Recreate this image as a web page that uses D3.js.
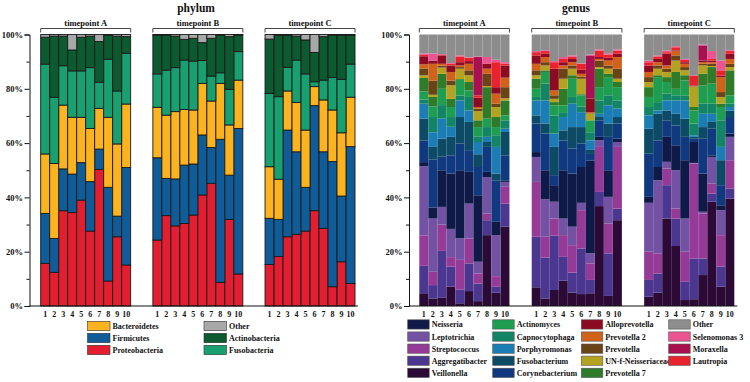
<!DOCTYPE html>
<html><head><meta charset="utf-8">
<script src="https://cdn.jsdelivr.net/npm/d3@7"></script>
<style>
body{margin:0;background:#fff;}
text{font-family:"Liberation Serif","Times New Roman",serif;font-weight:bold;fill:#111;}
</style></head>
<body><svg id="c" width="750" height="382"></svg>
<script>
const timepoints = ["timepoint A","timepoint B","timepoint C"];
const samples = ["1","2","3","4","5","6","7","8","9","10"];
const yTicks = [0,20,40,60,80,100];

// phylum (stack order bottom -> top), 30 values: A1..A10, B1..B10, C1..C10
const phylumKeys = ["Proteobacteria","Firmicutes","Bacteroidetes","Fusobacteria","Actinobacteria","Other"];
const phylumColors = ["#e31e30","#0f5c99","#fbb320","#18a070","#0b5a30","#a8a8a8"];
const proteobacteria = [15.7,12.4,35.1,34.4,39,27.6,50.3,9.2,25.5,15.1, 24.3,33.3,29.5,30.4,33.5,40.9,45.2,8.7,31.9,11.8, 15.3,18.2,25.5,26.4,27.6,35.1,28.6,7.1,16.3,8.3];
const firmicutes = [18.4,12.5,15.4,14.2,13.8,18.2,7.5,34.5,7.6,35.9, 30.3,13.7,17.3,21.5,18.8,22.1,13.2,52.7,16.3,53.6, 17,13.7,39.3,30.4,16.1,38.7,28.2,46.1,24.2,50.4];
const bacteroidetes = [21.9,27.6,23.5,20.9,16.7,19.6,15,25.8,26.6,23.4, 18.6,23.3,24.8,20.5,19.9,19,17.1,20.6,18.5,17.8, 19,14.8,14.4,18.2,21.1,7,19.1,19,23.3,18.2];
const fusobacteria = [33.1,24.4,14.5,17.1,17.1,22.4,9.6,21.4,19.5,18.7, 12.3,16.6,16.2,18.2,18,8.4,9.2,3.9,13.1,10.5, 27,30.4,8.7,15.6,20.7,1.8,7.3,12,19.7,12.2];
const actinobacteria = [9.9,22.5,10.9,7.7,12.4,11.6,15,8.9,20.2,6.1, 14.3,12.9,11.6,7.6,8.4,6.6,13.9,13.9,19.4,6.1, 20,22.7,11.9,8.8,12.5,10.8,16,15.6,16.3,10.7];
const phylumOther = [1,0.6,0.6,5.7,1,0.6,2.6,0.2,0.6,0.8, 0.2,0.2,0.6,1.8,1.4,3,1.4,0.2,0.8,0.2, 1.7,0.2,0.2,0.6,2,6.6,0.8,0.2,0.2,0.2];
const phylumSeries = [proteobacteria,firmicutes,bacteroidetes,fusobacteria,actinobacteria,phylumOther];
const phylumLegend = [["Bacteroidetes","Firmicutes","Proteobacteria"],["Other","Actinobacteria","Fusobacteria"]];

// genus (stack order bottom -> top)
const genusKeys = ["Veillonella","Aggregatibacter","Streptococcus","Leptotrichia","Neisseria",
  "Corynebacterium","Fusobacterium","Porphyromonas","Capnocytophaga","Actinomyces",
  "Prevotella 7","UN-f-Neisseriaceae","Prevotella","Prevotella 2","Alloprevotella",
  "Lautropia","Moraxella","Selenomonas 3","Other"];
const genusColors = ["#2b0b36","#4b3690","#963a97","#7452a3","#0f1a48",
  "#10397f","#0d4a66","#1c7cb4","#138566","#1f9d50",
  "#2e7b2a","#b4a222","#6a4316","#d0621c","#8c0b22",
  "#e8222e","#a8104f","#ea5490","#8d8d8d"];
const veillonella = [4.7,2.8,3,7.1,1,5.5,1.8,26.1,4.9,29.2, 6.9,2.8,5.9,9.3,4.9,4.4,4.7,36.8,3.7,31.6, 3.4,4.9,32.2,22.1,2.2,2.5,11.4,38.4,7.1,39.6];
const aggregatibacter = [10.1,4.9,17.3,7.4,5.1,10.2,6.5,5.5,2.2,8.5, 18.6,15,20.1,8.8,7.4,16.8,4.9,5.2,15.7,4.3, 6.2,7.1,12.3,10.1,6.7,15,6.1,3,7.4,3.7];
const streptococcus = [11.2,4.9,9.7,3.5,10.9,9.2,3.7,2.5,3.9,6.2, 20.2,7.7,6.2,8,10.1,14.1,6.1,16.6,11,22.7, 10.4,7.4,6.1,3.7,11.1,35,16.6,3.7,11.6,10.4];
const leptotrichia = [25.5,19.6,6.5,10.4,7.9,12.8,4.3,13.4,15.1,1.8, 9.2,13.8,6.2,6.1,6.8,2.7,3.7,2.4,9.8,1.8, 18,26.9,2.5,14.1,12.2,0.2,0.6,9.8,9.2,8.6];
const neisseria = [1.5,4.1,13.5,20.4,25.1,11.7,24.5,1.9,4.9,0.6, 1.8,10.7,6.1,17.8,19.6,13.2,34.1,1.3,9.8,1.2, 2.2,4.9,9.2,9.2,21.5,7.7,14.1,0.6,1.8,1.2];
const corynebacterium = [8,17.7,5,6.7,9.8,8,10.4,9.2,15.3,9.2, 10.5,13.5,3.7,11,9.2,8.6,2.5,6.1,12.3,5.6, 15.9,9.8,6.1,7.3,8.6,1.2,12.8,9.8,7.4,6.1];
const fusobacterium = [8,4.6,6.6,6.8,9.8,10.4,4.7,1.8,2.5,8.6, 3,3.7,10.4,3.7,7.9,6.1,1.5,1.2,4.9,2.4, 9.2,9.8,3.6,4.3,6.7,0.7,4.3,2.5,9.2,2.4];
const porphyromonas = [5.5,5.4,7.4,3.7,6.1,4.2,4.5,1.9,9.8,1.2, 5.5,8.5,4.9,4.9,8.6,5.5,3.5,1.2,6.7,3.1, 4.9,1.2,3.7,4.9,6.7,0.6,4.9,3,4.9,1.3];
const capnocytophaga = [1.5,5.6,5,3.6,1.8,5,2.1,3.6,4.3,3.1, 1.3,6.2,6.7,1.8,2.5,2.1,3,4.9,3.7,3, 3.1,3.1,2.5,1.9,1.9,4.3,3.7,3.7,9.8,1.2];
const actinomyces = [3,3.9,6,3.7,5.8,2.4,3.4,3.1,3,1.8, 3,4.3,3.7,2.5,6.7,4.1,4.4,4.9,6.7,4.9, 3.7,9.2,4.3,2.4,5.5,4.8,6.7,7.4,4.9,3.1];
const prevotella7 = [5,3.5,5.5,3,0.3,3.1,2.5,11.6,3.7,5.5, 3.7,0.6,1.2,6.1,1.3,0.4,0,6.8,1.2,1.9, 3.6,0.7,1.8,6.2,1.9,1.3,4.3,6.1,1.2,9.2];
const unfNeisseriaceae = [1,0.8,2.3,5,3.8,2.5,3.4,0.4,3.7,0.8, 1.3,1.8,1.2,3.7,2.4,5.7,2.4,0.6,1.9,1.2, 1.9,2.4,1.9,4.2,1.8,7.3,3.1,0.4,2.5,1.2];
const prevotella = [2.5,5.2,0.7,1.7,0.6,1.8,0.9,4.5,1.2,4.1, 1.8,1.2,1.3,3.7,1.2,0.8,0.2,2.4,1.2,3.7, 1.8,1.2,1.2,1.9,1.2,0.2,0.6,0.8,1.8,1.2];
const prevotella2 = [1.5,6.2,0.7,3.2,0.6,2.4,0.6,1.9,3.7,3.5, 2.4,1.9,1.8,1.2,1.2,1,0.4,0.6,1.8,4.3, 1.9,1.2,1.2,1.8,1.2,0.4,0.6,0.6,5.5,1.8];
const alloprevotella = [3,1.2,3.1,2.4,1.2,1,3.4,1.8,2.4,4.5, 3.1,1.2,8,1.2,1.2,1.5,5,0.7,1,1.2, 2.4,1.2,4.3,0.2,0.6,0.2,0.6,0.6,0.6,1.9];
const lautropia = [0.5,0,0.2,0.6,2.1,1.2,0.9,0.2,9.2,0.6, 1.2,1,2.4,1.2,0.9,2.2,0,2.4,1.2,1.2, 1.2,0.9,0.6,1,0.9,3.5,0,0.6,1.9,1];
const moraxella = [0,0,0,0,0,0,14.1,0,0,0, 0,0,0,0,0,0,15.9,0,0,0, 0,0,0,0,0,0,5.6,0,0,0];
const selenomonas3 = [0.5,2.6,0.3,0.3,0.4,0.2,0.2,2.3,0.9,0.6, 0.4,0.3,0.4,0.7,0.4,0.2,0.3,0.4,0.5,0.4, 0.6,0.4,0.6,0.4,0.3,0.1,0.3,2.9,3.6,0.3];
const genusOther = [7,7,7.2,10.5,7.7,8.4,8.1,8.3,9.3,10.2, 6.1,5.8,9.8,8.3,7.7,10.6,7.4,5.5,6.9,5.5, 9.6,7.7,5.9,4.3,9,15,3.7,6.1,9.6,5.8];
const genusSeries = [veillonella,aggregatibacter,streptococcus,leptotrichia,neisseria,corynebacterium,fusobacterium,porphyromonas,capnocytophaga,actinomyces,prevotella7,unfNeisseriaceae,prevotella,prevotella2,alloprevotella,lautropia,moraxella,selenomonas3,genusOther];
const genusLegend = [["Neisseria","Leptotrichia","Streptococcus","Aggregatibacter","Veillonella"],
  ["Actinomyces","Capnocytophaga","Porphyromonas","Fusobacterium","Corynebacterium"],
  ["Alloprevotella","Prevotella 2","Prevotella","UN-f-Neisseriaceae","Prevotella 7"],
  ["Other","Selenomonas 3","Moraxella","Lautropia"]];

const svg = d3.select("#c");

function buildRows(keys, series){
  const rows = [];
  timepoints.forEach((tp,ti)=>{
    samples.forEach((s,si)=>{
      const r = {tp, s};
      keys.forEach((k,ki)=>{ r[k] = series[ki][ti*10+si]; });
      rows.push(r);
    });
  });
  return rows;
}

function drawPanel(o){
  const g = svg.append("g");
  const y = d3.scaleLinear().domain([0,100]).range([306,34.5]);
  const fx = d3.scaleBand().domain(timepoints).range([o.x0,o.x1]).paddingInner(0.198).paddingOuter(0);
  const color = d3.scaleOrdinal().domain(o.keys).range(o.colors);
  const rows = buildRows(o.keys, o.series);
  const stacked = d3.stack().keys(o.keys)(rows);

  // title
  g.append("text").attr("x",o.titleX).attr("y",12).attr("text-anchor","middle")
    .style("font-size","11.5px").text(o.title);

  timepoints.forEach(tp=>{
    const x = d3.scaleBand().domain(samples).range([fx(tp), fx(tp)+fx.bandwidth()]).padding(0);
    const fg = g.append("g");
    stacked.forEach(layer=>{
      fg.selectAll(null).data(layer.filter(d=>d.data.tp===tp)).enter().append("rect")
        .attr("x",d=>x(d.data.s)).attr("width",x.bandwidth())
        .attr("y",d=>y(d[1])).attr("height",d=>Math.max(0,y(d[0])-y(d[1])))
        .attr("fill",color(layer.key))
        .attr("stroke",o.stroke?"#1a1a1a":"none").attr("stroke-width",o.stroke?0.9:0);
    });
    // facet bracket
    const bx0 = fx(tp), bx1 = fx(tp)+fx.bandwidth();
    fg.append("path").attr("d",`M${bx0},32.5V28.5H${bx1}V32.5`).attr("fill","none").attr("stroke","#333").attr("stroke-width",0.9);
    fg.append("text").attr("x",(bx0+bx1)/2).attr("y",26).attr("text-anchor","middle").style("font-size","8.5px").text(tp);
    // x labels
    const ax = fg.append("g").attr("transform","translate(0,306)").call(d3.axisBottom(x).tickSize(0).tickPadding(5));
    ax.select(".domain").remove();
    ax.selectAll("text").style("font-size","8px").style("font-family",'"Liberation Serif","Times New Roman",serif').style("font-weight","bold").attr("fill","#111");
  });

  // y axis
  const ay = g.append("g").attr("transform",`translate(${o.axisX},0)`)
    .call(d3.axisLeft(y).tickValues(yTicks).tickFormat(d=>d+"%").tickSize(5).tickPadding(1.5));
  ay.selectAll("text").style("font-size","8.5px").style("font-family",'"Liberation Serif","Times New Roman",serif').style("font-weight","bold").attr("fill","#111");
  ay.selectAll("line,path").attr("stroke","#111").attr("stroke-width",1);
  const minor = g.append("g").attr("transform",`translate(${o.axisX},0)`)
    .call(d3.axisLeft(y).tickValues([10,30,50,70,90]).tickFormat("").tickSize(3));
  minor.select(".domain").remove();
  minor.selectAll("line").attr("stroke","#111");
  // x axis line
  g.append("line").attr("x1",o.axisX).attr("x2",o.x1+3).attr("y1",306).attr("y2",306).attr("stroke","#111").attr("stroke-width",1);

  // legend
  o.legend.forEach((col,ci)=>{
    col.forEach((name,ri)=>{
      const lx = o.legX[ci], ly = o.legY + ri*o.legStep;
      g.append("rect").attr("x",lx).attr("y",ly).attr("width",o.swW).attr("height",o.swH)
        .attr("fill",color(name)).attr("stroke",o.stroke?"#333":"#555").attr("stroke-width",0.6);
      g.append("text").attr("x",lx+o.swW+2.5).attr("y",ly+o.swH/2+3).style("font-size","8px").text(name);
    });
  });
}

drawPanel({title:"phylum",titleX:196,keys:phylumKeys,colors:phylumColors,series:phylumSeries,
  x0:40.7,x1:355,axisX:29.5,stroke:true,legend:phylumLegend,legX:[87.5,204],legY:321.3,legStep:12,swW:22.5,swH:9.4});
drawPanel({title:"genus",titleX:576,keys:genusKeys,colors:genusColors,series:genusSeries,
  x0:419.3,x1:734.3,axisX:409,stroke:false,legend:genusLegend,legX:[407.7,492.7,581.3,668.7],legY:319.8,legStep:12.1,swW:21.5,swH:9.3});
</script>
</body></html>
